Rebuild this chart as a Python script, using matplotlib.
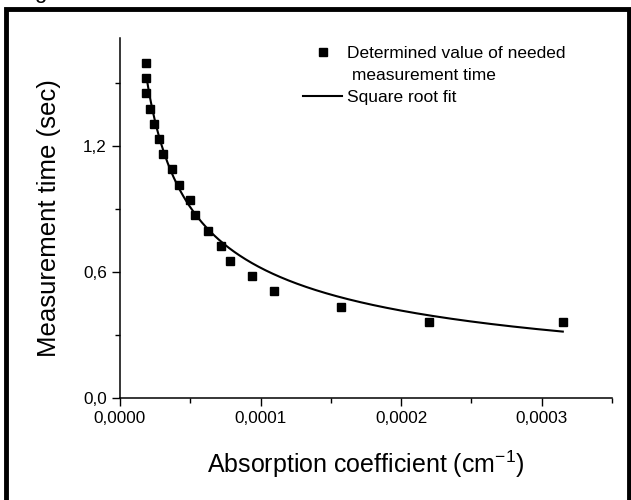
import numpy as np
import matplotlib
matplotlib.use("Agg")
import matplotlib.pyplot as plt
from matplotlib.ticker import FixedLocator, MultipleLocator, FuncFormatter
from matplotlib.patches import Rectangle
from matplotlib.lines import Line2D

plt.rcParams['font.family'] = ['Liberation Sans', 'DejaVu Sans']

# Data
absorption = [1.83e-5, 1.83e-5, 1.83e-5, 2.14e-5, 2.44e-5, 2.78e-5, 3.08e-5,
              3.70e-5, 4.20e-5, 4.99e-5, 5.32e-5, 6.25e-5, 7.19e-5, 7.83e-5,
              9.40e-5, 1.095e-4, 1.569e-4, 2.20e-4, 3.15e-4]
meas_time = [1.597, 1.522, 1.451, 1.376, 1.305, 1.232, 1.160, 1.089, 1.016,
             0.943, 0.870, 0.797, 0.725, 0.654, 0.581, 0.508, 0.435, 0.363, 0.363]

# Square root fit parameters: t = a / sqrt(alpha) + b
fit_a = 0.00696
fit_b = -0.076
fit_range = (1.9e-5, 3.15e-4)

x_ticks = [0.0, 1e-4, 2e-4, 3e-4]
y_ticks = [0.0, 0.6, 1.2]

fig = plt.figure(figsize=(6.31, 5.00), dpi=100)
ax = fig.add_axes([120/631, 1-398/500, (612-120)/631, (398-38)/500])

ax.plot(absorption, meas_time, 's', color='black', ms=6, mec='black', zorder=3)
xf = np.linspace(fit_range[0], fit_range[1], 400)
ax.plot(xf, fit_a/np.sqrt(xf) + fit_b, '-', color='black', lw=1.5)

ax.set_xlim(0, 0.00035)
ax.set_ylim(0, 1.714)
ax.xaxis.set_major_locator(FixedLocator(x_ticks))
ax.xaxis.set_minor_locator(MultipleLocator(5e-5))
ax.yaxis.set_major_locator(FixedLocator(y_ticks))
ax.yaxis.set_minor_locator(MultipleLocator(0.3))
ax.xaxis.set_major_formatter(FuncFormatter(lambda v, p: f"{v:.4f}".replace('.', ',')))
ax.yaxis.set_major_formatter(FuncFormatter(lambda v, p: f"{v:.1f}".replace('.', ',')))

for s in ['top', 'right']:
    ax.spines[s].set_visible(False)
for s in ['left', 'bottom']:
    ax.spines[s].set_linewidth(1.1)
ax.tick_params(which='major', direction='out', length=6, width=1.0, labelsize=12.3)
ax.tick_params(which='minor', direction='out', length=3.5, width=1.0)

ax.set_xlabel('Absorption coefficient (cm$^{\\mathregular{-1}}$)', fontsize=18, labelpad=16)
ax.set_ylabel('Measurement time (sec)', fontsize=18.5, labelpad=16)

h_pts = Line2D([], [], ls='none', marker='s', color='black', ms=6)
h_blank = Line2D([], [], ls='none', marker=None)
h_line = Line2D([], [], ls='-', color='black', lw=1.5)
leg = ax.legend([h_pts, h_blank, h_line],
                ['Determined value of needed', ' measurement time', 'Square root fit'],
                loc='upper left', bbox_to_anchor=((303-120)/492, (398-46)/360),
                frameon=False, fontsize=12.5, handlelength=2.25, handletextpad=0.3,
                labelspacing=0.38, borderaxespad=0, borderpad=0)

# Thick frame around the figure
fig.patches.append(Rectangle((6/631, -0.05), (629-6)/631, 1.05 - 9.5/500,
                             transform=fig.transFigure, fill=False,
                             lw=3.5, edgecolor='black'))
# Cropped caption fragment at top
fig.text(34/631, 1 + 2/500, 'g', fontsize=16, va='baseline', ha='left')

fig.savefig('out.png', dpi=100)
